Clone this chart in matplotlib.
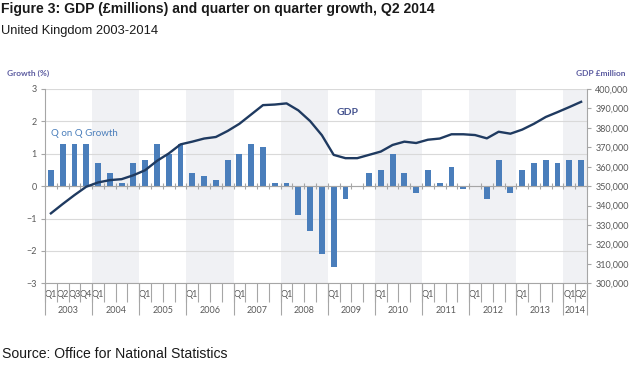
import matplotlib
matplotlib.use("Agg")
import matplotlib.pyplot as plt
import numpy as np
from matplotlib.ticker import FuncFormatter

years = [2003, 2004, 2005, 2006, 2007, 2008, 2009, 2010, 2011, 2012, 2013, 2014]
quarters_per_year = [4, 4, 4, 4, 4, 4, 4, 4, 4, 4, 4, 2]
q_labels = ["Q1", "Q2", "Q3", "Q4",
            "Q1", "", "", "", "Q1", "", "", "", "Q1", "", "", "",
            "Q1", "", "", "", "Q1", "", "", "", "Q1", "", "", "",
            "Q1", "", "", "", "Q1", "", "", "", "Q1", "", "", "",
            "Q1", "", "", "", "Q1", "Q2"]
growth = [0.5, 1.3, 1.3, 1.3,
          0.7, 0.4, 0.1, 0.7,
          0.8, 1.3, 1.0, 1.3,
          0.4, 0.3, 0.2, 0.8,
          1.0, 1.3, 1.2, 0.1,
          0.1, -0.9, -1.4, -2.1,
          -2.5, -0.4, 0.0, 0.4,
          0.5, 1.0, 0.4, -0.2,
          0.5, 0.1, 0.6, -0.1,
          0.0, -0.4, 0.8, -0.2,
          0.5, 0.7, 0.8, 0.7,
          0.8, 0.8]
gdp = [336000, 340800, 345400, 349700,
       351900, 353100, 353600, 355600,
       358200, 363000, 366800, 371500,
       372900, 374500, 375300, 378400,
       382100, 386900, 391700, 392000,
       392600, 389000, 383500, 376200,
       366100, 364400, 364400, 366100,
       367800, 371200, 372900, 372200,
       373900, 374500, 376700, 376700,
       376300, 374600, 378000, 377000,
       379100, 382100, 385600, 388100,
       390700, 393400]

CH = "Lato"
GREY = "#595959"
AXC = "#a6a6a6"
BAR = "#4a7ebb"
LINE = "#1f3a60"
LBL = "#5b5ba0"

n = len(growth)
x = np.arange(n)
starts = np.concatenate([[0], np.cumsum(quarters_per_year)[:-1]])
year_bounds = np.concatenate([starts, [n]]) - 0.5
year_centers = starts + (np.array(quarters_per_year) - 1) / 2.0

fig = plt.figure(figsize=(6.39, 3.65), dpi=100)
ax = fig.add_axes([45 / 639, 1 - 283.3 / 365, 542 / 639, 194.3 / 365])
ax.set_xlim(-0.5, n - 0.5)
ax.set_ylim(-3, 3)

for i, (s, c) in enumerate(zip(starts, quarters_per_year)):
    if years[i] % 2 == 0:
        ax.axvspan(s - 0.5, s + c - 0.5, color="#f0f1f4", zorder=0, lw=0)

ax.set_yticks(range(-3, 4))
ax.grid(axis="y", color="#d9d9d9", lw=0.8, zorder=0.5)
ax.set_axisbelow(True)
ax.bar(x, growth, width=0.5, color=BAR, zorder=2)

for s in ["top", "right"]:
    ax.spines[s].set_visible(False)
ax.spines["left"].set_color(AXC)
ax.spines["bottom"].set_position(("data", 0))
ax.spines["bottom"].set_color(AXC)
ax.spines["bottom"].set_zorder(3)
ax.set_xticks(np.arange(n + 1) - 0.5)
ax.tick_params(axis="x", direction="inout", length=4.5, color=AXC, labelbottom=False)
ax.tick_params(axis="y", direction="out", length=3, color=AXC, labelcolor=GREY,
               labelsize=6.5, pad=3)
for t in ax.get_yticklabels():
    t.set_fontfamily(CH)

# category labels
sec = ax.secondary_xaxis(location=0)
sec.spines["bottom"].set_color(AXC)
sec.set_xticks(x, labels=q_labels)
sec.set_xticks(np.arange(n + 1) - 0.5, minor=True)
sec.tick_params(which="major", length=0, pad=5, labelsize=6.5, labelcolor=GREY)
sec.tick_params(which="minor", length=13.5, color=AXC, width=0.8)
for t in sec.get_xticklabels():
    t.set_fontfamily(CH)

sec2 = ax.secondary_xaxis(location=0)
sec2.spines["bottom"].set_visible(False)
sec2.set_xticks(year_centers, labels=[str(y) for y in years])
sec2.set_xticks(year_bounds, minor=True)
sec2.tick_params(which="major", length=0, pad=16.5, labelsize=6.5, labelcolor=GREY)
sec2.tick_params(which="minor", length=23, color=AXC, width=0.8)
for t in sec2.get_xticklabels():
    t.set_fontfamily(CH)

ax2 = ax.twinx()
ax2.set_ylim(300000, 400000)
ax2.set_yticks(range(300000, 400001, 10000))
ax2.yaxis.set_major_formatter(FuncFormatter(lambda v, p: f"{int(v):,}"))
ax2.plot(x, gdp, color=LINE, lw=1.7, zorder=4)
for s in ["top", "left", "bottom"]:
    ax2.spines[s].set_visible(False)
ax2.spines["right"].set_color(AXC)
ax2.tick_params(axis="y", direction="out", length=3, color=AXC, labelcolor=GREY,
                labelsize=6.5, pad=3)
for t in ax2.get_yticklabels():
    t.set_fontfamily(CH)

ax.text(0.0, 1.64, "Q on Q Growth", color=BAR, fontsize=7, family=CH,
        va="center", ha="left")
ax2.text(25.2, 388100, "GDP", color="#45538f", fontsize=7.5, family=CH,
         fontweight="bold", va="center", ha="center")

fig.text(7 / 639, 1 - 73 / 365, "Growth (%)", color=LBL, fontsize=6, family=CH,
         fontweight="bold", va="center", ha="left")
fig.text(626 / 639, 1 - 73 / 365, "GDP £million", color=LBL, fontsize=6, family=CH,
         fontweight="bold", va="center", ha="right")

fig.text(1 / 639, 1 - 9 / 365, "Figure 3: GDP (£millions) and quarter on quarter growth, Q2 2014",
         fontsize=10.1, fontweight="bold", family="Liberation Sans", color="#1a1a1a",
         va="center", ha="left")
fig.text(1 / 639, 1 - 31 / 365, "United Kingdom 2003-2014", fontsize=9.3,
         family="Liberation Sans", color="#1a1a1a", va="center", ha="left")
fig.text(2 / 639, 1 - 354 / 365, "Source: Office for National Statistics", fontsize=10.1,
         family="Liberation Sans", color="#1a1a1a", va="center", ha="left")

fig.savefig("out.png", dpi=100)
